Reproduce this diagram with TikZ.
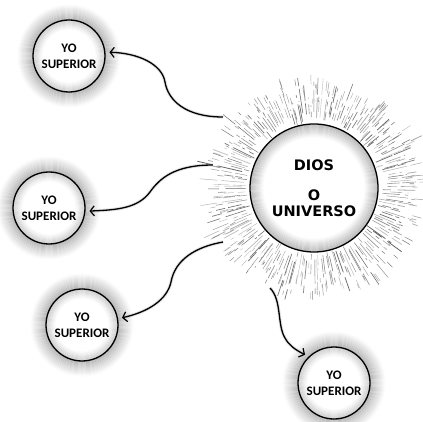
\documentclass[tikz,border=0pt]{standalone}
\usepackage{fontspec}
\newfontfamily\carl{Carlito}
\newfontfamily\dvs{DejaVu Sans}
\usetikzlibrary{arrows.meta}
\begin{document}
\begin{tikzpicture}[x=1pt,y=-1pt,
  yo/.style={circle, draw=black, line width=1.3pt, minimum size=72pt, inner sep=0pt, align=center, font=\carl\bfseries\fontsize{13}{15}\selectfont},
  sunnode/.style={circle, draw=black, line width=1.3pt, minimum size=128pt, inner sep=0pt, align=center, font=\dvs\bfseries\fontsize{14.5}{18}\selectfont},
  conn/.style={line width=1.3pt, -{Straight Barb[length=4pt,width=10pt,line width=1.2pt]}, shorten >=4pt,
     preaction={draw=black!22, line width=3.2pt, opacity=0.5}}]
\useasboundingbox (0,0) rectangle (423,422);
\fill[white] (0,0) rectangle (423,422);
% centres
\coordinate (c0) at (314,188);
\coordinate (c1) at (69,56);
\coordinate (c2) at (49,208);
\coordinate (c3) at (82,325);
\coordinate (c4) at (334,383);
% glows of the small circles
\foreach \c in {c1,c2,c3,c4}{
  \foreach \k in {0,...,15}{
    \pgfmathtruncatemacro\g{30-1.9*\k}
    \draw[black!\g, line width=1.1pt] (\c) circle[radius=36+\k];
  }
  \foreach \k in {1,...,10}{
    \pgfmathtruncatemacro\g{22-2.2*\k}
    \draw[black!\g, line width=1.1pt] (\c) circle[radius=36-\k];
  }
}
% rays
\pgfmathsetseed{11}
\foreach \i in {1,...,190}{
  \pgfmathsetmacro\ang{\i/190*360+rnd*1.6}
  \pgfmathsetmacro\ra{65+rnd*12}
  \pgfmathsetmacro\rb{\ra+5+rnd*20}
  \pgfmathsetmacro\rc{\rb+2+rnd*5}
  \pgfmathsetmacro\rd{\rc+rnd*18}
  \pgfmathtruncatemacro\g{25+rnd*40}
  \pgfmathsetmacro\w{0.3+rnd*0.5}
  \draw[black!\g, line width=\w pt, shift={(c0)}] (\ang:\ra) -- (\ang:\rb) (\ang:\rc) -- (\ang:\rd);
}
\foreach \i in {1,...,150}{
  \pgfmathsetmacro\ang{rnd*360}
  \pgfmathsetmacro\ra{84+rnd*22}
  \pgfmathsetmacro\rb{\ra+3+rnd*7}
  \pgfmathtruncatemacro\g{20+rnd*35}
  \pgfmathsetmacro\w{0.3+rnd*0.5}
  \draw[black!\g, line width=\w pt, shift={(c0)}] (\ang:\ra) -- (\ang:\rb);
}
% sun inner glow
\fill[white] (c0) circle[radius=64];
\foreach \k in {1,...,14}{
  \pgfmathtruncatemacro\g{30-2.1*\k}
  \draw[black!\g, line width=1.1pt] (c0) circle[radius=64-\k];
}
\node[sunnode] (sun) at (c0) {DIOS\\[12pt]O\\[-2pt]UNIVERSO};
% small nodes
\node[yo] (y1) at (c1) {YO\\[1pt]SUPERIOR};
\node[yo] (y2) at (c2) {YO\\[1pt]SUPERIOR};
\node[yo] (y3) at (c3) {YO\\[1pt]SUPERIOR};
\node[yo] (y4) at (c4) {YO\\[1pt]SUPERIOR};
% connector starts
\coordinate (s1) at (223,117);
\coordinate (s2) at (213,165);
\coordinate (s3) at (223,242);
\coordinate (s4) at (270,288);
\draw[conn] (s1) .. controls (185,117) and (168,100) .. (165,82) .. controls (162,64) and (138,53) .. (y1.6);
\draw[conn] (s2) .. controls (175,165) and (160,178) .. (150,192) .. controls (138,208) and (118,210) .. (y2.-5);
\draw[conn] (s3) .. controls (195,247) and (175,260) .. (171,282) .. controls (167,300) and (148,312) .. (y3.10);
\draw[conn] (s4) .. controls (282,300) and (277,325) .. (285,338) .. controls (289,345) and (294,349) .. (y4.134);
\end{tikzpicture}
\end{document}
